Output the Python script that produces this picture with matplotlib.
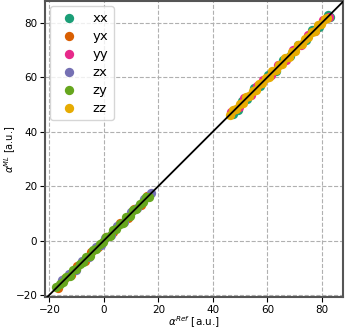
import numpy as np
import matplotlib.pyplot as plt

labels = ["xx", "yx", "yy", "zx", "zy", "zz"]
colors = ["#1b9e77", "#d95f02", "#e7298a", "#7570b3", "#66a61e", "#e6ab02"]

# reference / predicted values per component
xx_ref = [47.5, 49.2, 50.8, 52.6, 55.1, 57.4, 60.3, 63.0, 65.8, 68.4, 71.2, 74.0, 76.5, 79.1, 82.2, 83.0]
xx_ml = [46.6, 48.1, 51.3, 52.0, 55.9, 56.8, 60.9, 62.4, 66.5, 67.8, 71.9, 73.5, 77.2, 78.4, 82.9, 82.3]
yx_ref = [-16.8, -14.5, -12.0, -9.8, -7.1, -4.6, -2.0, 0.8, 3.5, 6.1, 8.7, 11.2, 13.6, 16.0]
yx_ml = [-17.3, -14.0, -12.6, -9.2, -7.6, -4.1, -2.5, 1.3, 3.0, 6.6, 8.2, 11.7, 13.1, 16.4]
yy_ref = [46.8, 49.5, 51.6, 54.0, 56.3, 58.4, 61.2, 64.0, 66.9, 69.5, 72.3, 75.0, 77.6, 80.5, 82.6]
yy_ml = [47.3, 49.0, 52.2, 53.5, 56.8, 58.9, 60.7, 64.5, 66.4, 70.0, 71.8, 75.5, 77.1, 81.0, 82.0]
zx_ref = [-15.2, -12.8, -10.4, -8.0, -5.5, -3.0, -1.2, 0.5, 2.6, 5.0, 7.4, 9.8, 12.3, 14.8, 17.2]
zx_ml = [-14.6, -12.2, -10.9, -7.5, -6.0, -2.5, -1.8, 1.1, 2.1, 5.5, 6.9, 10.3, 11.8, 15.3, 17.6]
zy_ref = [-17.5, -16.2, -15.0, -13.8, -12.5, -11.3, -10.1, -8.9, -7.6, -6.4, -5.2, -4.0, -2.7,
          -1.5, -0.3, 0.9, 2.1, 3.4, 4.6, 5.8, 7.0, 8.3, 9.5, 10.7, 11.9, 13.2, 14.4, 15.6, 16.5]
zy_ml = [-17.1, -15.8, -15.4, -13.3, -12.9, -10.9, -10.5, -8.5, -8.0, -6.0, -5.6, -3.6, -3.1,
         -1.1, -0.7, 1.3, 1.7, 3.8, 4.2, 6.2, 6.6, 8.7, 9.1, 11.1, 11.5, 13.6, 14.0, 16.0, 16.1]
zz_ref = [46.2, 47.4, 48.6, 49.8, 51.0, 52.2, 53.4, 54.6, 55.8, 57.0, 58.2, 59.4, 60.6, 61.8,
          63.0, 64.2, 65.4, 66.6, 67.8, 69.0, 70.2, 71.4, 72.6, 73.8, 75.0, 76.2, 77.4, 78.6, 79.8, 81.0, 82.0]
zz_ml = [46.0, 47.8, 48.2, 50.2, 50.6, 52.6, 53.0, 55.0, 55.4, 57.4, 57.8, 59.8, 60.2, 62.2,
         62.6, 64.6, 65.0, 67.0, 67.4, 69.4, 69.8, 71.8, 72.2, 74.2, 74.6, 76.6, 77.0, 79.0, 79.4, 81.4, 81.6]

refs = [xx_ref, yx_ref, yy_ref, zx_ref, zy_ref, zz_ref]
mls = [xx_ml, yx_ml, yy_ml, zx_ml, zy_ml, zz_ml]

fig = plt.figure(figsize=(3.46, 3.32), dpi=100)
ax = fig.add_axes([0.13, 0.105, 0.861, 0.892])

for lab, c, r, m in zip(labels, colors, refs, mls):
    ax.scatter(r, m, s=45, color=c, label=lab, zorder=2, linewidths=0)

lims = [-21.6, 88]
ax.plot(lims, lims, color="k", lw=1.3, zorder=3)
ax.set_xlim(-21.6, 87.7)
ax.set_ylim(-20.8, 88)
ax.set_xticks([-20, 0, 20, 40, 60, 80])
ax.set_yticks([-20, 0, 20, 40, 60, 80])
ax.tick_params(labelsize=7.5, pad=2)
ax.grid(True, ls="--", color="#b0b0b0", lw=0.8)
ax.set_axisbelow(True)
for sp in ax.spines.values():
    sp.set_color("#555555")
    sp.set_linewidth(1.5)

ax.set_xlabel(r"$\alpha^{Ref}$ [a.u.]", fontsize=7.5, labelpad=0)
ax.set_ylabel(r"$\alpha^{ML}$ [a.u.]", fontsize=7)
ax.yaxis.set_label_coords(-0.09, 0.5)
ax.legend(loc="upper left", fontsize=9.5, handletextpad=0.8, labelspacing=0.38,
          borderaxespad=0.4)

fig.savefig("out.png", dpi=100)
